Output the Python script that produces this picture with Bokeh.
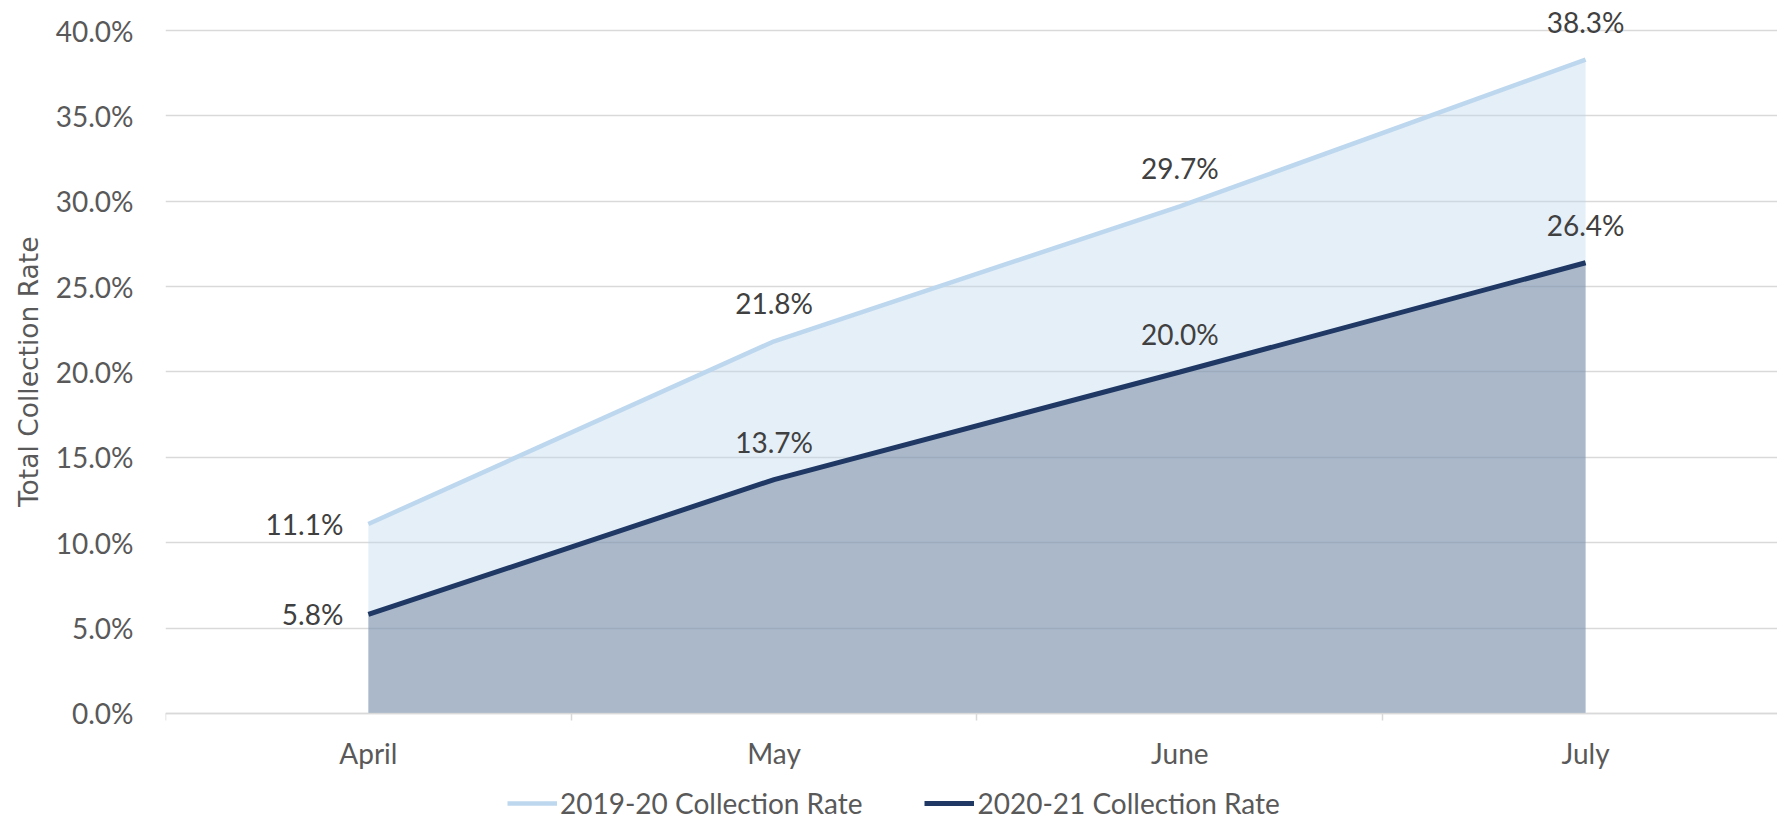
from bokeh.plotting import figure
from bokeh.models import (Range1d, FixedTicker, PrintfTickFormatter, ColumnDataSource,
                          LabelSet, Legend, LegendItem, Title)
from bokeh.core.properties import value
from bokeh.embed import file_html
from bokeh.resources import INLINE

# ---- data ----
months = ["April", "May", "June", "July"]
rate_2019_20 = [11.1, 21.8, 29.7, 38.3]
rate_2020_21 = [5.8, 13.7, 20.0, 26.4]
series_names = ["2019-20 Collection Rate", "2020-21 Collection Rate"]
y_ticks = [0, 5, 10, 15, 20, 25, 30, 35, 40]
y_title = "Total Collection Rate"

x = list(range(len(months)))

TICK_FONT = "Lato"
TICK_SIZE = "28px"
TICK_COLOR = "#595959"
LABEL_COLOR = "#404040"

p = figure(width=1777, height=820, output_backend="svg", toolbar_location=None,
           x_range=Range1d(-0.5, 3.473), y_range=Range1d(-6.267, 41.757),
           min_border_left=165, min_border_right=0, min_border_top=0,
           min_border_bottom=0)
p.outline_line_color = None
p.background_fill_color = "white"
p.border_fill_color = "white"

# grid
p.xgrid.grid_line_color = None
p.ygrid.ticker = FixedTicker(ticks=y_ticks)
p.ygrid.grid_line_color = "#d9d9d9"
p.ygrid.grid_line_width = 1.5

# areas
p.varea(x=x, y1=[0] * len(x), y2=rate_2019_20, fill_color="#bdd7ee", fill_alpha=0.4)
p.varea(x=x, y1=[0] * len(x), y2=rate_2020_21, fill_color="#627592", fill_alpha=0.45)

# lines
l1 = p.line(x=x, y=rate_2019_20, line_color="#bdd7ee", line_width=4.5)
l2 = p.line(x=x, y=rate_2020_21, line_color="#1f3864", line_width=5)

# y axis
yax = p.yaxis[0]
yax.ticker = FixedTicker(ticks=y_ticks)
yax.formatter = PrintfTickFormatter(format="%.1f%%")
yax.axis_line_color = None
yax.major_tick_line_color = None
yax.minor_tick_line_color = None
yax.major_tick_out = 0
yax.major_tick_in = 0
yax.major_label_standoff = 32
yax.major_label_text_font = TICK_FONT
yax.major_label_text_font_size = TICK_SIZE
yax.major_label_text_color = TICK_COLOR

p.add_layout(Title(text=y_title, align="right", offset=236, standoff=18,
                   text_font="DejaVu Sans", text_font_size="26.5px",
                   text_font_style="normal", text_color=TICK_COLOR), "left")

# x axis (drawn at y = 0 inside the frame)
xax = p.xaxis[0]
xax.fixed_location = 0
xax.ticker = FixedTicker(ticks=x, minor_ticks=[i - 0.5 for i in range(len(months) + 1)])
xax.major_label_overrides = {i: m for i, m in enumerate(months)}
xax.axis_line_color = "#d9d9d9"
xax.axis_line_width = 1.5
xax.major_tick_line_color = None
xax.major_tick_out = 0
xax.major_tick_in = 0
xax.minor_tick_line_color = "#d9d9d9"
xax.minor_tick_line_width = 1.5
xax.minor_tick_out = 7
xax.minor_tick_in = 0
xax.major_label_standoff = 16
xax.major_label_text_font = TICK_FONT
xax.major_label_text_font_size = TICK_SIZE
xax.major_label_text_color = TICK_COLOR

# data labels
def fmt(v):
    return f"{v:.1f}%"

left_src = ColumnDataSource(dict(
    x=[x[0], x[0]],
    y=[rate_2019_20[0], rate_2020_21[0]],
    text=[fmt(rate_2019_20[0]), fmt(rate_2020_21[0])]))
above_src = ColumnDataSource(dict(
    x=x[1:] + x[1:],
    y=rate_2019_20[1:] + rate_2020_21[1:],
    text=[fmt(v) for v in rate_2019_20[1:] + rate_2020_21[1:]]))

p.add_layout(LabelSet(x="x", y="y", text="text", source=left_src, x_offset=-25,
                      text_align="right", text_baseline="middle",
                      text_font=value(TICK_FONT), text_font_size=value(TICK_SIZE),
                      text_color=LABEL_COLOR))
p.add_layout(LabelSet(x="x", y="y", text="text", source=above_src, y_offset=38,
                      text_align="center", text_baseline="middle",
                      text_font=value(TICK_FONT), text_font_size=value(TICK_SIZE),
                      text_color=LABEL_COLOR))

# legend
legend = Legend(items=[LegendItem(label=series_names[0], renderers=[l1]),
                       LegendItem(label=series_names[1], renderers=[l2])],
                location=(342, 0), orientation="horizontal",
                glyph_width=50, glyph_height=28, label_height=28,
                label_standoff=3, spacing=62, padding=0, margin=0,
                background_fill_alpha=0, border_line_alpha=0,
                label_text_font=TICK_FONT, label_text_font_size=TICK_SIZE,
                label_text_color=TICK_COLOR)
p.add_layout(legend)

open("out.html", "w").write(file_html(p, INLINE))
